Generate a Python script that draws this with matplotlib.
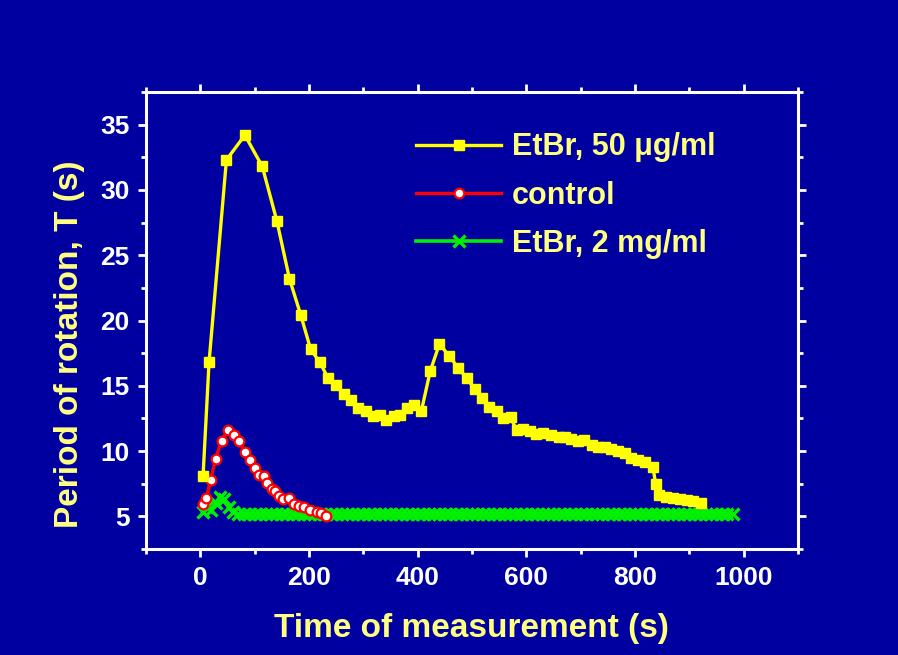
"""
Period of rotation vs time of measurement (EtBr / control).
Saves out.png at 898x655.
"""

import matplotlib
matplotlib.use("Agg")
import matplotlib.pyplot as plt
from matplotlib.ticker import MultipleLocator

# ── Data ──────────────────────────────────────────────────────
etbr50_t = [5, 16, 48, 82, 114, 141, 164, 185, 203, 220, 235, 250, 264,
            278, 291, 304, 318, 330, 342, 356, 368, 381, 394, 407, 423,
            440, 458, 474, 490, 505, 519, 532, 546, 558, 571, 582, 594,
            606, 618, 631, 646, 660, 671, 683, 695, 707, 720, 732, 744,
            756, 769, 781, 793, 805, 818, 833, 838, 845, 858, 870, 882,
            895, 907, 922]
etbr50_T = [8.1, 16.8, 32.3, 34.2, 31.8, 27.6, 23.2, 20.4, 17.8, 16.8,
            15.6, 15.1, 14.4, 13.9, 13.3, 13.1, 12.7, 12.8, 12.4, 12.7,
            12.8, 13.3, 13.5, 13.1, 16.1, 18.2, 17.3, 16.4, 15.6, 14.75,
            14.1, 13.4, 13.1, 12.5, 12.6, 11.6, 11.7, 11.55, 11.3, 11.4,
            11.2, 11.1, 11.05, 10.9, 10.8, 10.85, 10.5, 10.35, 10.3, 10.15,
            10.0, 9.85, 9.5, 9.3, 9.2, 8.8, 7.5, 6.6, 6.45, 6.4, 6.3, 6.25,
            6.2, 6.05]

control_t = [4, 11, 19, 28, 39, 50, 62, 72, 82, 91, 100, 108, 117, 123,
             131, 138, 145, 153, 163, 172, 182, 190, 201, 214, 223, 232]
control_T = [5.96, 6.4, 7.8, 9.4, 10.8, 11.6, 11.2, 10.8, 9.9, 9.3, 8.7,
             8.2, 8.1, 7.55, 7.1, 6.95, 6.55, 6.3, 6.4, 5.96, 5.8, 5.75,
             5.5, 5.3, 5.25, 5.0]

etbr2_t = [5, 12, 20, 28, 36, 44, 52, 60,
           70, 80, 90, 100, 110, 120, 130, 140, 150, 160,
           170, 180, 190, 200, 210, 220, 230, 240, 250, 260,
           270, 280, 290, 300, 310, 320, 330, 340, 350, 360,
           370, 380, 390, 400, 410, 420, 430, 440, 450, 460,
           470, 480, 490, 500, 510, 520, 530, 540, 550, 560,
           570, 580, 590, 600, 610, 620, 630, 640, 650, 660,
           670, 680, 690, 700, 710, 720, 730, 740, 750, 760,
           770, 780, 790, 800, 810, 820, 830, 840, 850, 860,
           870, 880, 890, 900, 910, 920, 930, 940, 950, 960,
           970, 980]
etbr2_T = [5.3, 5.7, 5.5, 6.0, 6.5, 6.3, 5.7, 5.3,
           5.2, 5.2, 5.2, 5.2, 5.2, 5.2, 5.2, 5.2, 5.2, 5.2,
           5.2, 5.2, 5.2, 5.2, 5.2, 5.2, 5.2, 5.2, 5.2, 5.2,
           5.2, 5.2, 5.2, 5.2, 5.2, 5.2, 5.2, 5.2, 5.2, 5.2,
           5.2, 5.2, 5.2, 5.2, 5.2, 5.2, 5.2, 5.2, 5.2, 5.2,
           5.2, 5.2, 5.2, 5.2, 5.2, 5.2, 5.2, 5.2, 5.2, 5.2,
           5.2, 5.2, 5.2, 5.2, 5.2, 5.2, 5.2, 5.2, 5.2, 5.2,
           5.2, 5.2, 5.2, 5.2, 5.2, 5.2, 5.2, 5.2, 5.2, 5.2,
           5.2, 5.2, 5.2, 5.2, 5.2, 5.2, 5.2, 5.2, 5.2, 5.2,
           5.2, 5.2, 5.2, 5.2, 5.2, 5.2, 5.2, 5.2, 5.2, 5.2,
           5.2, 5.2]

x_ticks = [0, 200, 400, 600, 800, 1000]
y_ticks = [5, 10, 15, 20, 25, 30, 35]

# ── Style ─────────────────────────────────────────────────────
BG       = "#0000A0"
LABEL_YL = "#FFFF80"
YELLOW   = "#FFFF00"
RED      = "#FF0000"
GREEN    = "#00F000"

plt.rcParams["font.family"] = ["Liberation Sans", "DejaVu Sans"]
plt.rcParams["font.weight"] = "bold"

fig = plt.figure(figsize=(8.98, 6.55), dpi=100)
fig.patch.set_facecolor(BG)
ax = fig.add_axes([0.1626, 0.1618, 0.7260, 0.6977])
ax.set_facecolor(BG)

ax.plot(etbr2_t, etbr2_T, color=GREEN, linewidth=2.6, marker="x",
        markersize=9, markeredgewidth=2.4, zorder=2,
        label="EtBr, 2 mg/ml")
ax.plot(control_t, control_T, color=RED, linewidth=2.4, marker="o",
        markersize=7, markerfacecolor="white", markeredgecolor=RED,
        markeredgewidth=1.6, zorder=3, label="control")
ax.plot(etbr50_t, etbr50_T, color=YELLOW, linewidth=2.4, marker="s",
        markersize=6.5, markerfacecolor=YELLOW, markeredgecolor=YELLOW,
        zorder=4, label="EtBr, 50 \u03bcg/ml")

ax.set_xlim(-100, 1100)
ax.set_ylim(2.5, 37.5)
ax.set_xticks(x_ticks)
ax.set_yticks(y_ticks)
ax.xaxis.set_minor_locator(MultipleLocator(100))
ax.yaxis.set_minor_locator(MultipleLocator(2.5))

for spine in ax.spines.values():
    spine.set_color("white")
    spine.set_linewidth(2.2)

ax.tick_params(which="both", direction="out", colors="white",
               top=True, right=True, width=2.0)
ax.tick_params(which="major", length=6, pad=6, labelsize=19)
ax.tick_params(which="minor", length=3.5)
for lbl in ax.get_xticklabels() + ax.get_yticklabels():
    lbl.set_fontweight("bold")

fig.text(471 / 898, 1 - 629 / 655, "Time of measurement (s)",
         ha="center", va="center", color=LABEL_YL, fontsize=24,
         fontweight="bold")
fig.text(70 / 898, 1 - 344 / 655, "Period of rotation, T (s)",
         ha="center", va="center", rotation=90, color=LABEL_YL,
         fontsize=24, fontweight="bold")

handles, labels = ax.get_legend_handles_labels()
order = [2, 1, 0]
leg = ax.legend([handles[i] for i in order], [labels[i] for i in order],
                loc="upper left", bbox_to_anchor=(0.414, 0.912),
                frameon=False, fontsize=22, handlelength=2.8,
                handletextpad=0.33, labelspacing=0.6, borderpad=0,
                borderaxespad=0, numpoints=1)
for txt in leg.get_texts():
    txt.set_color(LABEL_YL)
    txt.set_fontweight("bold")

fig.savefig("out.png", dpi=100, facecolor=fig.get_facecolor())
